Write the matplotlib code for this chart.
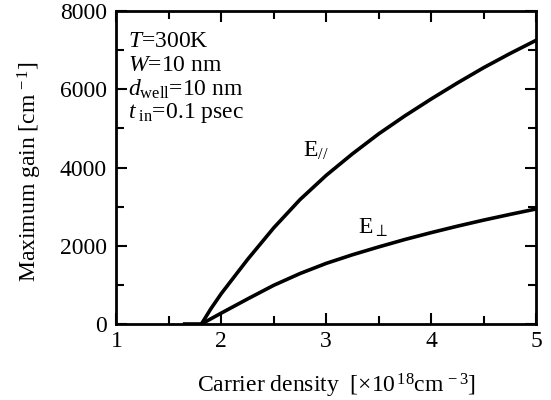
import matplotlib
matplotlib.use('Agg')
import matplotlib.pyplot as plt
from matplotlib.ticker import MultipleLocator

plt.rcParams['font.family'] = ['Liberation Serif', 'DejaVu Serif']
plt.rcParams['mathtext.fontset'] = 'custom'
plt.rcParams['mathtext.rm'] = 'Liberation Serif'
plt.rcParams['mathtext.it'] = 'Liberation Serif:italic'

# datos
n_par = [1.81, 1.90, 2.0, 2.25, 2.5, 2.75, 3.0, 3.25, 3.5, 3.75, 4.0, 4.25, 4.5, 4.75, 5.0]
g_par = [0, 390, 780, 1650, 2460, 3180, 3800, 4350, 4860, 5320, 5750, 6160, 6550, 6910, 7250]

n_perp = [1.65, 1.81, 2.0, 2.25, 2.5, 2.75, 3.0, 3.25, 3.5, 3.75, 4.0, 4.25, 4.5, 4.75, 5.0]
g_perp = [0, 0, 280, 640, 990, 1290, 1550, 1770, 1970, 2160, 2335, 2500, 2655, 2800, 2940]

params = [r'$T$=300K', r'$W$=10 nm', r'$d_{\rm well}$=10 nm', r'$t_{\ \rm in}$=0.1 psec']

fig = plt.figure(figsize=(5.51, 4.0), dpi=100)
ax = fig.add_axes([0.2114, 0.19, 0.7614, 0.7825])

ax.plot(n_par, g_par, color='black', lw=2.6, solid_joinstyle='round')
ax.plot(n_perp, g_perp, color='black', lw=2.6, solid_joinstyle='round')

ax.set_xlim(1, 5)
ax.set_ylim(0, 8000)
ax.xaxis.set_major_locator(MultipleLocator(1))
ax.xaxis.set_minor_locator(MultipleLocator(0.5))
ax.yaxis.set_major_locator(MultipleLocator(2000))
ax.yaxis.set_minor_locator(MultipleLocator(1000))
ax.tick_params(which='both', direction='in', top=True, right=True, width=1.5, labelsize=17)
ax.tick_params(which='major', length=8)
ax.tick_params(which='minor', length=6)
ax.tick_params(axis='x', pad=5)
ax.tick_params(axis='y', pad=7)
for s in ax.spines.values():
    s.set_linewidth(2)

ax.set_xlabel(r'Carrier density  [×10$^{\,18}$cm$^{\,-3}$]', fontsize=17)
ax.set_ylabel(r'Maximum gain [cm$^{\,-1}$]', fontsize=17)
ax.xaxis.set_label_coords(0.524, -0.152)
ax.yaxis.set_label_coords(-0.173, 0.487)

for i, p in enumerate(params):
    ax.text(0.027, 0.904 - i * 0.0767, p, transform=ax.transAxes, fontsize=17, va='center')

ax.text(2.78, 4270, r'E$_{//}$', fontsize=17, va='baseline')
ax.text(3.30, 2300, r'E$_{\perp}$', fontsize=17, va='baseline')

fig.savefig('out.png', dpi=100)
